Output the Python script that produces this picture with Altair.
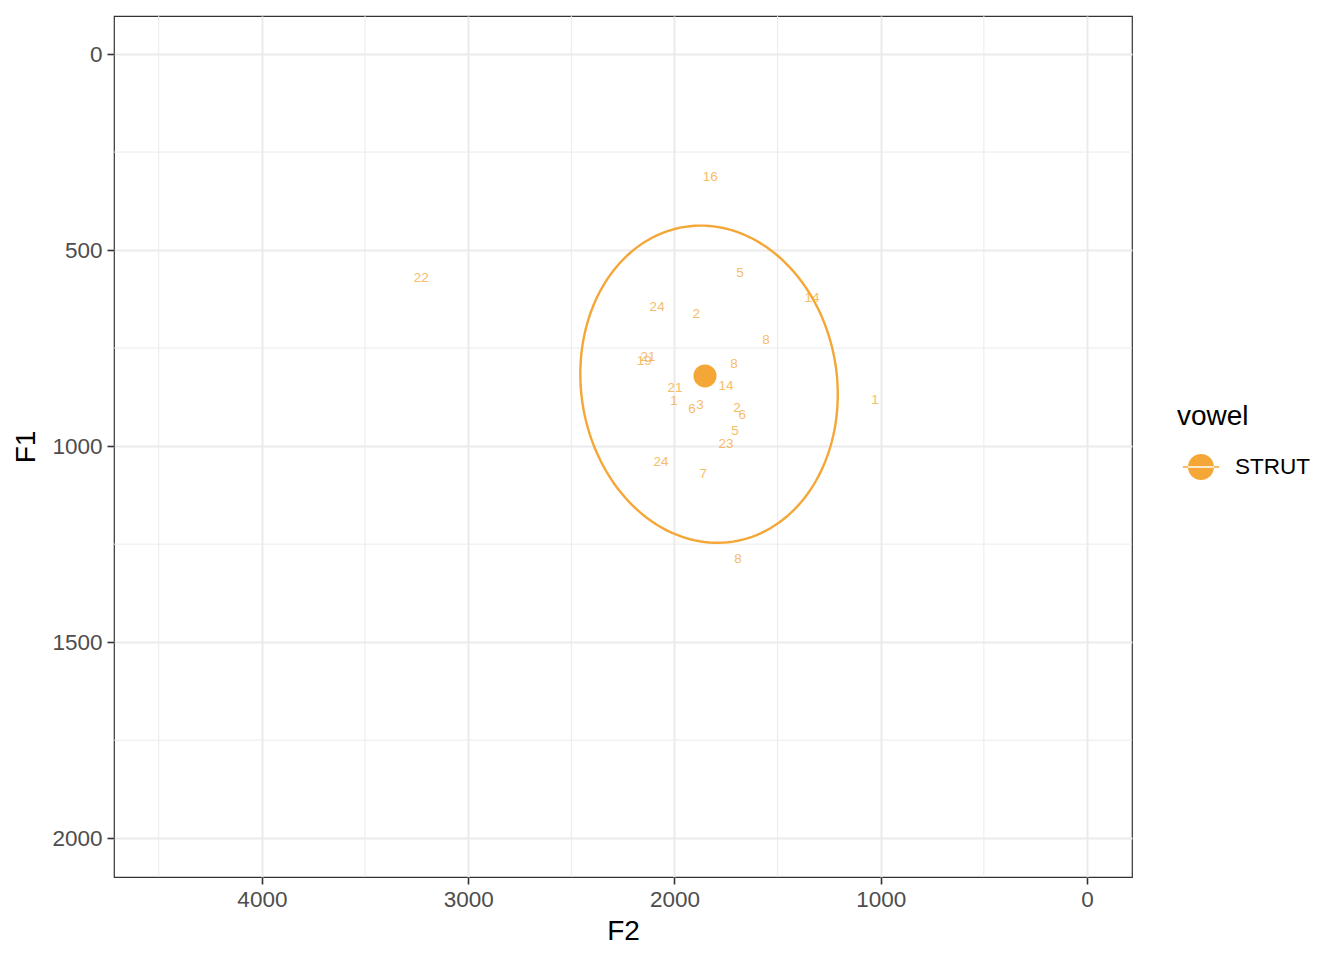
import altair as alt
import numpy as np
import pandas as pd

# token labels (speaker numbers) with formant values
lab_text = ["16", "22", "5", "14", "24", "2", "8", "21", "19", "8", "14", "21",
            "1", "6", "3", "2", "6", "5", "23", "24", "7", "8", "1"]
lab_f2 = [1827, 3228, 1682, 1333, 2084, 1895, 1556, 2128, 2147, 1711, 1750, 1997,
          2002, 1915, 1876, 1697, 1672, 1706, 1750, 2065, 1861, 1692, 1028]
lab_f1 = [314, 571, 559, 622, 645, 663, 730, 773, 783, 791, 847, 852,
          885, 906, 895, 903, 921, 962, 995, 1041, 1071, 1288, 883]

# mean of the vowel
mean_vowel = ["STRUT"]
mean_f2 = [1852]
mean_f1 = [821]

# ellipse outline points
ell_f2 = [1871, 1697, 1551, 1391, 1309, 1255, 1222, 1212, 1226, 1246, 1309, 1357,
          1503, 1634, 1779, 1924, 2007, 2167, 2312, 2395, 2443, 2453, 2448, 2409,
          2327, 2201, 2007]
ell_f1 = [441, 454, 500, 564, 635, 712, 806, 872, 934, 1003, 1087, 1130,
          1196, 1237, 1250, 1235, 1222, 1156, 1087, 1003, 901, 811, 747, 661,
          577, 500, 446]

x_minor = [500, 1500, 2500, 3500, 4500]
y_minor = [250, 750, 1250, 1750]
x_ticks = [0, 1000, 2000, 3000, 4000]
y_ticks = [0, 500, 1000, 1500, 2000]

COL = "#F4A736"
FONT = "Liberation Sans"

# smooth the read outline: least-squares conic (ellipse) fit, then trace it
ex = np.array(ell_f2, float)
ey = np.array(ell_f1, float)
mx, my = ex.mean(), ey.mean()
sx, sy = ex.std(), ey.std()
u, v = (ex - mx) / sx, (ey - my) / sy
M = np.column_stack([u * u, u * v, v * v, u, v, np.ones_like(u)])
A, B, C, D, E, F = np.linalg.svd(M)[2][-1]
cu, cv = np.linalg.solve([[2 * A, B], [B, 2 * C]], [-D, -E])
Fc = A * cu * cu + B * cu * cv + C * cv * cv + D * cu + E * cv + F
th = np.linspace(0, 2 * np.pi, 181)
den = A * np.cos(th) ** 2 + B * np.cos(th) * np.sin(th) + C * np.sin(th) ** 2
r = np.sqrt(-Fc / den)
fit_f2 = (cu + r * np.cos(th)) * sx + mx
fit_f1 = (cv + r * np.sin(th)) * sy + my

labels = pd.DataFrame({"label": lab_text, "F2": lab_f2, "F1": lab_f1})
means = pd.DataFrame({"vowel": mean_vowel, "F2": mean_f2, "F1": mean_f1})
ell = pd.DataFrame({"F2": fit_f2, "F1": fit_f1, "i": np.arange(len(th))})

xscale = alt.Scale(domain=[-218, 4717], reverse=True, nice=False, zero=False)
yscale = alt.Scale(domain=[-97, 2099], reverse=True, nice=False, zero=False)

xaxis = alt.Axis(values=x_ticks, title="F2", grid=True, labelFlush=False, format="d")
yaxis = alt.Axis(values=y_ticks, title="F1", grid=True, labelFlush=False, format="d")

minor_x = alt.Chart(pd.DataFrame({"v": x_minor})).mark_rule(
    color="#EBEBEB", strokeWidth=1).encode(
    x=alt.X("v:Q", scale=xscale, axis=xaxis))
minor_y = alt.Chart(pd.DataFrame({"v": y_minor})).mark_rule(
    color="#EBEBEB", strokeWidth=1).encode(
    y=alt.Y("v:Q", scale=yscale, axis=yaxis))

ellipse = alt.Chart(ell).mark_line(
    color=COL, strokeWidth=2.4).encode(
    x=alt.X("F2:Q", scale=xscale, axis=xaxis),
    y=alt.Y("F1:Q", scale=yscale, axis=yaxis),
    order="i:Q")

text = alt.Chart(labels).mark_text(
    color=COL, opacity=0.75, font=FONT, fontSize=13.5).encode(
    x=alt.X("F2:Q", scale=xscale, axis=xaxis),
    y=alt.Y("F1:Q", scale=yscale, axis=yaxis),
    text="label:N")

sym = ("M -1 0 A 1 1 0 1 0 1 0 A 1 1 0 1 0 -1 0 Z "
       "M -1.4 -0.05 L 1.4 -0.05 L 1.4 0.05 L -1.4 0.05 Z")

pts = alt.Chart(means).mark_point(
    filled=True, size=530, opacity=1, shape="circle").encode(
    x=alt.X("F2:Q", scale=xscale, axis=xaxis),
    y=alt.Y("F1:Q", scale=yscale, axis=yaxis),
    color=alt.Color("vowel:N",
                    scale=alt.Scale(domain=mean_vowel, range=[COL]),
                    legend=alt.Legend(title="vowel", symbolType=sym,
                                      symbolSize=676, symbolOpacity=1,
                                      symbolOffset=10,
                                      orient="none", legendX=1063, legendY=387,
                                      labelOffset=20)))

chart = alt.layer(minor_x, minor_y, ellipse, text, pts).properties(
    width=1018, height=861,
    autosize=alt.AutoSizeParams(type="none"),
    padding={"left": 106, "top": 8, "right": 204, "bottom": 75},
).configure_view(
    stroke="#333333", strokeWidth=1.2
).configure_axis(
    gridColor="#EBEBEB", gridWidth=2,
    domain=False,
    tickColor="#333333", tickWidth=1.6, tickSize=7,
    labelFont=FONT, labelFontSize=22.5, labelColor="#4D4D4D",
    titleFont=FONT, titleFontSize=28, titleColor="#000000",
    titleFontWeight="normal",
).configure_axisX(
    labelPadding=4, titlePadding=7
).configure_axisY(
    labelPadding=5, titlePadding=11
).configure_legend(
    titleFont=FONT, titleFontSize=28, titleFontWeight="normal",
    titleColor="#000000", labelFont=FONT, labelFontSize=22.5,
    labelColor="#000000", titlePadding=22
)

chart.save("out.html", embed_options={"renderer": "svg", "actions": False})
